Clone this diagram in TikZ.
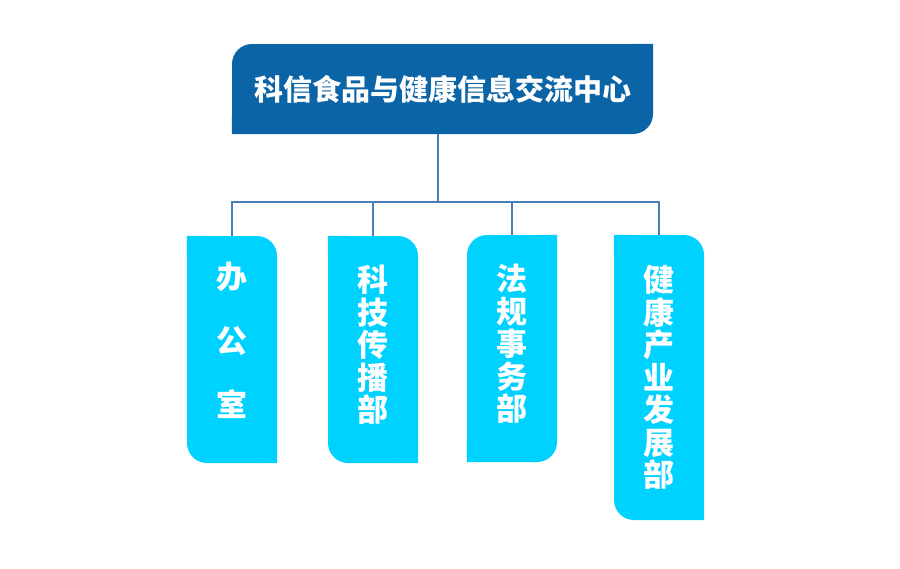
\documentclass[tikz,border=0pt]{standalone}
\usepackage{fontspec}
\usepackage{tikz}
\newfontfamily\cjk{Noto Sans CJK SC}
\definecolor{headblue}{RGB}{11,100,165}
\definecolor{unitcyan}{RGB}{0,210,255}
\definecolor{linkblue}{RGB}{74,126,187}

\begin{document}
\begin{tikzpicture}[x=1pt,y=-1pt,
		head/.style={fill=headblue,rounded corners=20pt,minimum width=421pt,minimum height=90pt,inner sep=0pt,text=white,font=\cjk\bfseries\fontsize{29}{30}\selectfont},
		unit/.style={fill=unitcyan,rounded corners=20pt,minimum width=90pt,inner sep=0pt,text=white,align=center,font=\cjk\bfseries\fontsize{31}{32.5}\selectfont},
		link/.style={draw=linkblue,line width=1.2pt}]
		\useasboundingbox (0,0) rectangle (900,568);
		% centre and departments
		\node[head] (centre) at (442.5,89) {科信食品与健康信息交流中心};
		\node[unit,minimum height=227pt,text depth=20pt,font=\cjk\bfseries\fontsize{31}{64}\selectfont] (office) at (232,349.5) {办\\公\\室};
		\node[unit,minimum height=227pt,text depth=12pt] (media) at (373,349.5) {科\\技\\传\\播\\部};
		\node[unit,minimum height=227pt,text depth=12pt] (law) at (512,348.5) {法\\规\\事\\务\\部};
		\node[unit,minimum height=285pt] (health) at (659,377.5) {健\\康\\产\\业\\发\\展\\部};
		% square corners
		\fill[headblue] (centre.north east) rectangle ++(-20pt,-20pt) (centre.south west) rectangle ++(20pt,20pt);
		\foreach \u in {office,media,health}
			\fill[unitcyan] (\u.north west) rectangle ++(20pt,-20pt) (\u.south east) rectangle ++(-20pt,20pt);
		\fill[unitcyan] (law.north east) rectangle ++(-20pt,-20pt) (law.south west) rectangle ++(20pt,20pt);
		% connectors
		\coordinate (hub) at (438,202);
		\draw[link] (centre.south -| hub) -- (hub);
		\draw[link] (office.north) |- (hub) -| (health.north);
		\draw[link] (media.north) -- (media.north |- hub);
		\draw[link] (law.north) -- (law.north |- hub);
\end{tikzpicture}
\end{document}
